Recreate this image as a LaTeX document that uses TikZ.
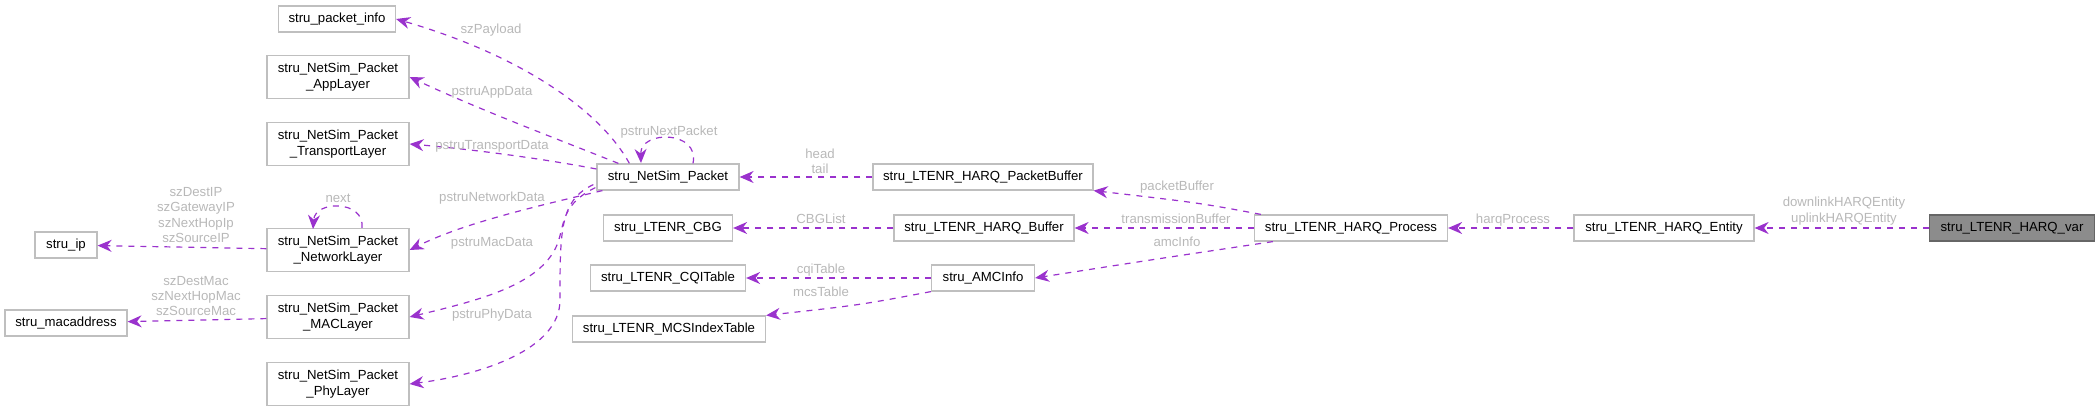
\documentclass[tikz,border=0pt]{standalone}
\usepackage{fontspec}
\setmainfont{Liberation Sans}
\usetikzlibrary{positioning,arrows.meta}

\definecolor{edgecol}{HTML}{9A32CD}
\definecolor{labcol}{HTML}{B8B8B8}
\definecolor{boxcol}{HTML}{BFBFBF}

\tikzset{
  cls/.style={draw=boxcol,line width=0.6pt,fill=white,inner sep=0pt,font=\fontsize{6.6}{8}\selectfont,align=center,minimum height=13pt},
  root/.style={cls,draw=black!60,fill=black!45},
  rel/.style={draw=edgecol,dashed,line width=0.6pt,-{Stealth[length=7pt,width=6pt]}},
  lab/.style={text=labcol,font=\fontsize{6.6}{7.6}\selectfont,align=center,inner sep=0pt}
}

\begin{document}
\begin{tikzpicture}[x=0.5pt,y=-0.5pt]
\useasboundingbox (0,0) rectangle (2100,411);

% classes
\node[cls,minimum width=58.5pt] (info) at (337,19) {stru\_packet\_info};
\node[cls,minimum width=71pt,minimum height=21.5pt] (app) at (338,77) {stru\_NetSim\_Packet\\\_AppLayer};
\node[cls,minimum width=71pt,minimum height=21.5pt] (trans) at (338,144) {stru\_NetSim\_Packet\\\_TransportLayer};
\node[cls,minimum width=71pt,minimum height=21.5pt] (net) at (338,250) {stru\_NetSim\_Packet\\\_NetworkLayer};
\node[cls,minimum width=71pt,minimum height=21.5pt] (mac) at (338,317) {stru\_NetSim\_Packet\\\_MACLayer};
\node[cls,minimum width=71pt,minimum height=21.5pt] (phy) at (338,384) {stru\_NetSim\_Packet\\\_PhyLayer};
\node[cls,minimum width=31pt] (ip) at (66,245) {stru\_ip};
\node[cls,minimum width=61pt] (macaddr) at (66,323) {stru\_macaddress};
\node[cls,minimum width=71pt] (pkt) at (668,177) {stru\_NetSim\_Packet};
\node[cls,minimum width=64.5pt] (cbg) at (668,228) {stru\_LTENR\_CBG};
\node[cls,minimum width=77.5pt] (cqi) at (668,278) {stru\_LTENR\_CQITable};
\node[cls,minimum width=96.5pt] (mcs) at (669,329) {stru\_LTENR\_MCSIndexTable};
\node[cls,minimum width=110pt] (pktbuf) at (983,177) {stru\_LTENR\_HARQ\_PacketBuffer};
\node[cls,minimum width=90pt] (hbuf) at (984,228) {stru\_LTENR\_HARQ\_Buffer};
\node[cls,minimum width=51.5pt] (amc) at (983,278) {stru\_AMCInfo};
\node[cls,minimum width=96.5pt] (proc) at (1351,228) {stru\_LTENR\_HARQ\_Process};
\node[cls,minimum width=90pt] (entity) at (1664,228) {stru\_LTENR\_HARQ\_Entity};
\node[root,minimum width=82.5pt] (var) at (2012,228) {stru\_LTENR\_HARQ\_var};
\coordinate (pktloop) at (641,163);
\coordinate (netloop) at (313,229);

% relations
\draw[rel] (var) -- (entity);
\draw[rel] (entity) -- (proc);
\draw[rel] (proc.north west) ++(7,0) .. controls (1200,203) .. (pktbuf.south east);
\draw[rel] (proc) -- (hbuf);
\draw[rel] (proc.south west) ++(19,0) .. controls (1150,260) .. (amc.east);
\draw[rel] (pktbuf) -- (pkt);
\draw[rel] (hbuf) -- (cbg);
\draw[rel] (amc) -- (cqi);
\draw[rel] (amc.south west) .. controls (860,305) .. (mcs.north east);
\draw[rel] (pkt.north west) ++(33,0) .. controls (600,110) and (520,55) .. (info.east);
\draw[rel] (pkt.north west) ++(22,0) .. controls (560,140) and (480,110) .. (app.east);
\draw[rel] (pkt.west) ++(0,-8) .. controls (550,160) and (480,150) .. (trans.east);
\draw[rel] (pkt.south west) ++(6,0) .. controls (520,210) and (460,225) .. (net.east);
\draw[rel] (pkt.south west) ++(-1,-3) .. controls (560,205) and (565,225) .. (557,245) .. controls (540,285) and (480,300) .. (mac.east);
\draw[rel] (pkt.south west) ++(-3,-6) .. controls (560,200) and (560,230) .. (560,300) .. controls (560,350) and (480,375) .. (phy.east);
\draw[rel] (pkt.north) ++(25,0) .. controls (700,130) and (640,130) .. (pktloop);
\draw[rel] (net.north) ++(24,0) .. controls (365,200) and (315,200) .. (netloop);
\draw[rel] (net) -- (ip);
\draw[rel] (mac) -- (macaddr);

% labels
\node[lab] (lvar) at (1844,211) {downlinkHARQEntity\\uplinkHARQEntity};
\node[lab] (lproc) at (1513,220) {harqProcess};
\node[lab] (lpktbuf) at (1177,187) {packetBuffer};
\node[lab] (lhbuf) at (1176,219) {transmissionBuffer};
\node[lab] (lamc) at (1177,242) {amcInfo};
\node[lab] (lpkt) at (820,161) {head\\tail};
\node[lab] (lcbg) at (821,219) {CBGList};
\node[lab] (lcqi) at (821,270) {cqiTable};
\node[lab] (lmcs) at (821,292) {mcsTable};
\node[lab] (linfo) at (491,30) {szPayload};
\node[lab] (lapp) at (492,92) {pstruAppData};
\node[lab] (ltrans) at (492,146) {pstruTransportData};
\node[lab] (lnext) at (669,132) {pstruNextPacket};
\node[lab] (lnet) at (492,198) {pstruNetworkData};
\node[lab] (lmac) at (492,243) {pstruMacData};
\node[lab] (lphy) at (492,315) {pstruPhyData};
\node[lab] (lself) at (338,198) {next};
\node[lab] (lip) at (196,215) {szDestIP\\szGatewayIP\\szNextHopIp\\szSourceIP};
\node[lab] (lmacaddr) at (196,296) {szDestMac\\szNextHopMac\\szSourceMac};
\end{tikzpicture}
\end{document}
